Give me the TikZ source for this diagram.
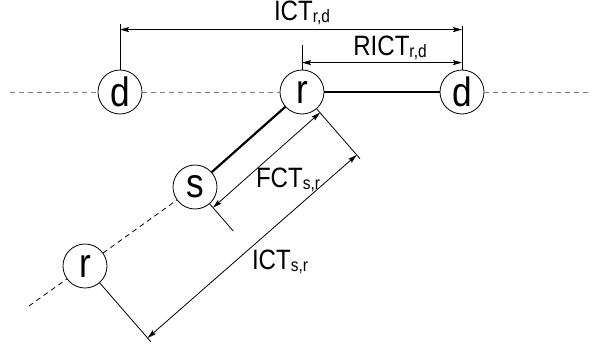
\documentclass[tikz,border=0pt]{standalone}
\usepackage{fontspec}
\setmainfont{Liberation Sans}[FakeStretch=0.86]
\usetikzlibrary{arrows.meta,calc}

\newcommand{\dimlabel}[2]{#1{\fontsize{18}{18}\selectfont\raisebox{-1.5pt}{#2}}}

\tikzset{
  station/.style={circle,draw,line width=0.8pt,minimum size=44pt,inner sep=0pt,
    font=\fontsize{41}{41}\selectfont},
  link/.style={line width=2.2pt},
  trail/.style={line width=0.8pt,dash pattern=on 5pt off 4pt},
  extline/.style={line width=0.8pt},
  dimarrow/.style={line width=0.8pt,
    {Stealth[length=9pt,width=5pt,inset=1.5pt]}-{Stealth[length=9pt,width=5pt,inset=1.5pt]}},
  dimtext/.style={font=\fontsize{28}{28}\selectfont,inner sep=0pt}
}

\begin{document}
\begin{tikzpicture}[x=1pt,y=1pt]
  \useasboundingbox (0,0) rectangle (597,-348);
  % stations
  \node[station] (d1) at (120,-92) {d};
  \node[station] (r1) at (302,-92) {r};
  \node[station] (d2) at (462,-92) {d};
  \node[station] (s) at (195,-187) {s};
  \node[station] (r2) at (85,-266) {r};
  \coordinate (west) at (10,-92);
  \coordinate (east) at (590,-92);
  \coordinate (tail) at (29,-306);
  % horizontal line
  \draw[trail,gray] (west) -- (d1);
  \draw[trail,gray] (d1) -- (r1);
  \draw[link] (r1) -- (d2);
  \draw[trail,gray] (d2) -- (east);
  % slanted line
  \draw[trail] (tail) -- (r2);
  \draw[trail] (r2) -- (s);
  \draw[link] (s) -- (r1);
  % extension lines
  \draw[extline] (d1.north) -- ++(0,46);
  \draw[extline] (r1.north) -- ++(0,25);
  \draw[extline] (d2.north) -- ++(0,44);
  \draw[extline] (r1.-49) -- ++(-49:66);
  \draw[extline] (s.-49) -- ++(-49:36);
  \draw[extline] (r2.-49) -- ++(-49:78);
  % dimensions
  \draw[dimarrow] ([yshift=40pt]d1.north) -- ([yshift=40pt]d2.north);
  \draw[dimarrow] ([yshift=7pt]r1.north) -- ([yshift=7pt]d2.north);
  \draw[dimarrow] ($(s.-49)+(-49:5)$) -- ($(r1.-49)+(-49:5)$);
  \draw[dimarrow] ($(r2.-49)+(-49:73)$) -- ($(r1.-49)+(-49:61)$);
  \node[dimtext] (ictrd) at (302,-13) {\dimlabel{ICT}{r,d}};
  \node[dimtext] (rictrd) at (390,-48) {\dimlabel{RICT}{r,d}};
  \node[dimtext] (fctsr) at (288,-180) {\dimlabel{FCT}{s,r}};
  \node[dimtext] (ictsr) at (280,-262) {\dimlabel{ICT}{s,r}};
\end{tikzpicture}
\end{document}
